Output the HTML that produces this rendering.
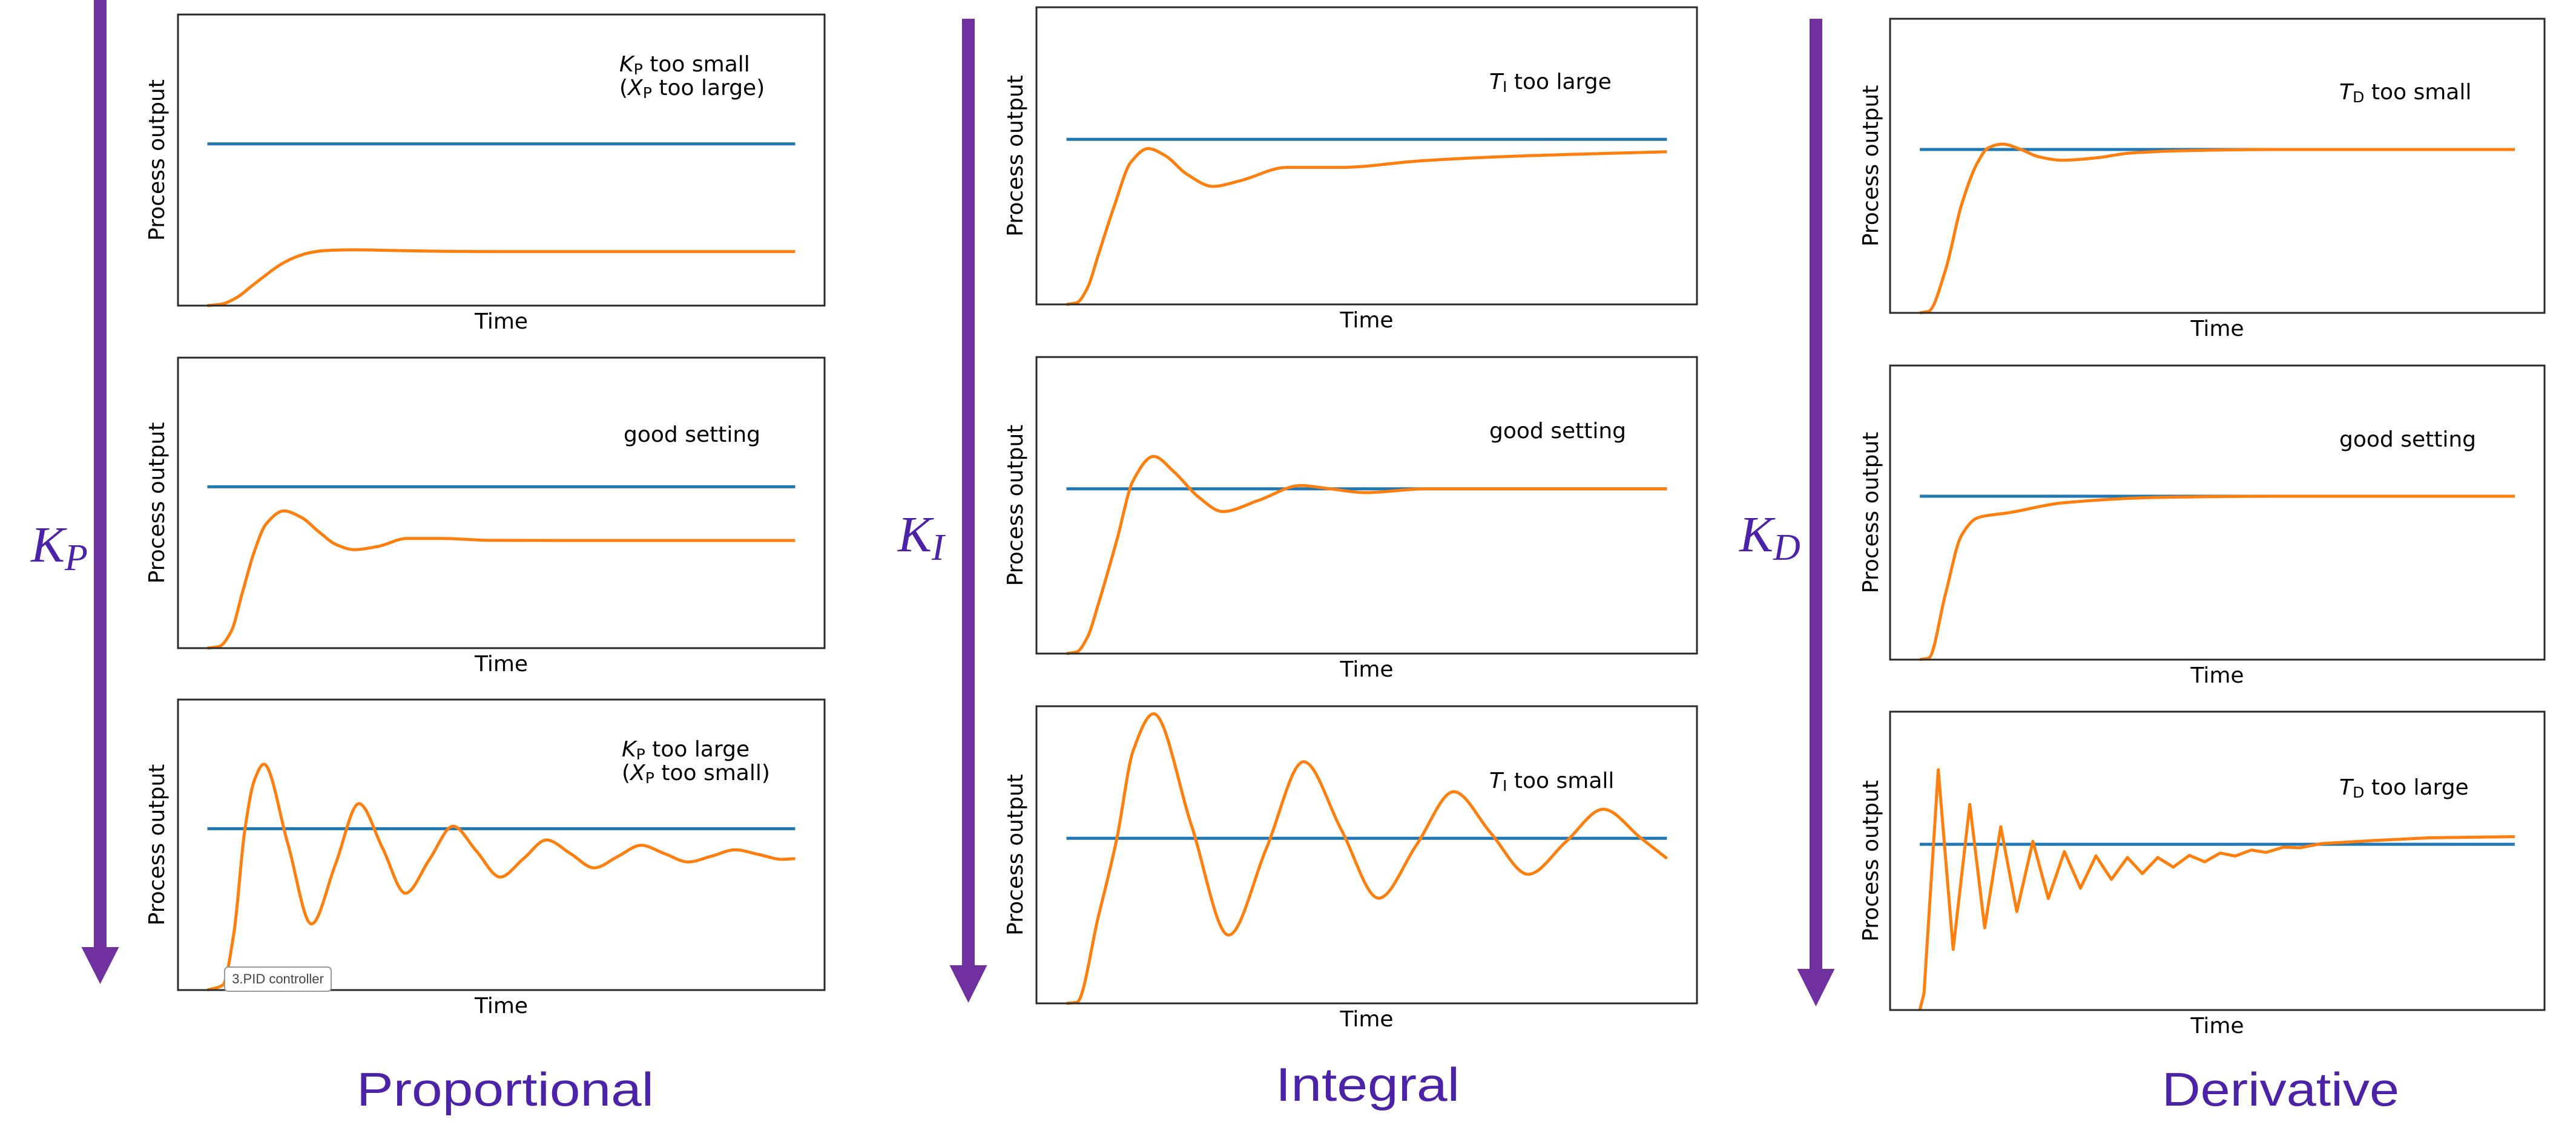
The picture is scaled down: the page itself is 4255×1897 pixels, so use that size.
<!DOCTYPE html>
<html><head><meta charset="utf-8"><title>PID controller tuning</title>
<style>
html,body{margin:0;padding:0;background:#fff;}
svg{display:block;}
</style></head>
<body>
<svg id="fig" xmlns="http://www.w3.org/2000/svg" width="4255" height="1897" viewBox="0 0 4255 1897">
<rect x="0" y="0" width="4255" height="1897" fill="#fff"/>
<g id="arrows"></g>
<g id="panels"></g>
<g id="labels"></g>
</svg>
<script>
const setpoint = 1;
const yMax = 1.8;
// Proportional column
const kpSmallT = [0,.025,.05,.075,.1,.125,.15,.175,.2,.25,.3,.4,.5,.7,1];
const kpSmallY = [0,.01,.05,.12,.19,.255,.3,.328,.34,.345,.342,.336,.334,.334,.334];
const kpGoodT = [0,.02,.04,.06,.08,.1,.13,.16,.19,.22,.25,.29,.34,.4,.48,.6,1];
const kpGoodY = [0,.01,.1,.35,.6,.77,.85,.81,.72,.64,.61,.63,.68,.68,.668,.667,.667];
const kpLargeT = [0,.026,.045,.064,.08,.096,.137,.177,.218,.258,.298,.337,.378,.418,.458,.498,.538,.577,.618,.658,.698,.738,.778,.818,.858,.898,.938,.978,1];
const kpLargeY = [0,.03,.35,1.0,1.3,1.40,.905,.41,.78,1.155,.88,.60,.81,1.015,.86,.70,.815,.93,.845,.757,.827,.897,.845,.794,.83,.869,.84,.81,.815];
// Integral column
const tiLargeT = [0,.017,.035,.053,.08,.107,.136,.165,.2,.244,.29,.367,.457,.59,.726,1];
const tiLargeY = [0,.01,.1,.3,.6,.86,.944,.9,.79,.715,.75,.83,.83,.87,.895,.925];
const tiGoodT = [0,.017,.035,.053,.084,.111,.145,.18,.22,.26,.32,.39,.44,.497,.6,1];
const tiGoodY = [0,.01,.1,.3,.69,1.05,1.197,1.1,.95,.862,.93,1.02,1.0,.977,1,1];
const tiSmallT = [0,.017,.053,.084,.111,.145,.208,.27,.333,.395,.458,.52,.583,.645,.707,.769,.832,.894,.957,1];
const tiSmallY = [0,.006,.525,1.0,1.53,1.754,1.08,.414,.94,1.464,1.05,.637,.96,1.282,1.03,.782,.98,1.176,1.0,.878];
// Derivative column
const tdSmallT = [0,.015,.043,.07,.097,.115,.139,.17,.2,.24,.3,.35,.45,.6,1];
const tdSmallY = [0,.01,.26,.66,.92,1.01,1.033,1.0,.955,.934,.95,.977,.993,1,1];
const tdGoodT = [0,.015,.043,.07,.097,.151,.242,.405,.6,1];
const tdGoodY = [0,.01,.4,.76,.868,.9,.96,.993,1,1];
const tdLargeT = [0,.007,.031,.056,.084,.109,.136,.163,.19,.216,.243,.27,.296,.322,.349,.374,.4,.426,.453,.479,.505,.53,.557,.582,.611,.639,.675,.766,.857,1];
const tdLargeY = [0,.1,1.45,.366,1.24,.496,1.106,.594,1.018,.673,.956,.735,.93,.788,.92,.823,.92,.862,.933,.894,.947,.929,.965,.951,.982,.979,1.004,1.023,1.039,1.046];

const NS = 'http://www.w3.org/2000/svg';
function mk(tag, attrs, parent){ const e=document.createElementNS(NS,tag); for(const k in attrs) e.setAttribute(k,attrs[k]); if(parent) parent.appendChild(e); return e; }

const cols = [
 {x0:294,x1:1362,rows:[[24,505],[591,1071],[1156,1636]],ylab:261},
 {x0:1712,x1:2803,rows:[[12,503],[590,1080],[1167,1658]],ylab:1679},
 {x0:3122,x1:4203,rows:[[31,517],[604,1090],[1176,1669]],ylab:3092}
];
const series = [
 [[kpSmallT,kpSmallY,'kp-too-small',true],[kpGoodT,kpGoodY,'kp-good',true],[kpLargeT,kpLargeY,'kp-too-large',true]],
 [[tiLargeT,tiLargeY,'ti-too-large',true],[tiGoodT,tiGoodY,'ti-good',true],[tiSmallT,tiSmallY,'ti-too-small',true]],
 [[tdSmallT,tdSmallY,'td-too-small',true],[tdGoodT,tdGoodY,'td-good',true],[tdLargeT,tdLargeY,'td-too-large',false]]
];
const annots = [
 [[1023,108,[['K','i'],['P','s'],[' too small','n']],[1023,147,[['(','n'],['X','i'],['P','s'],[' too large)','n']]]],[1030,720,[['good setting','n']]],[1027,1240,[['K','i'],['P','s'],[' too large','n']],[1027,1279,[['(','n'],['X','i'],['P','s'],[' too small)','n']]]]],
 [[2460,137,[['T','i'],['I','s'],[' too large','n']]],[2460,714,[['good setting','n']]],[2460,1292,[['T','i'],['I','s'],[' too small','n']]]],
 [[3864,154,[['T','i'],['D','s'],[' too small','n']]],[3864,728,[['good setting','n']]],[3864,1303,[['T','i'],['D','s'],[' too large','n']]]]
];

function pathSmooth(pts){
  const n=pts.length, dx=[], m=[], t=[];
  for(let i=0;i<n-1;i++){ dx.push(pts[i+1][0]-pts[i][0]); m.push((pts[i+1][1]-pts[i][1])/dx[i]); }
  t[0]=m[0]; t[n-1]=m[n-2];
  for(let i=1;i<n-1;i++){
    if(m[i-1]*m[i]<=0) t[i]=0;
    else { const d0=dx[i-1],d1=dx[i]; t[i]=3*(d0+d1)/((2*d1+d0)/m[i-1]+(d1+2*d0)/m[i]); }
  }
  let d='M'+pts[0][0].toFixed(1)+','+pts[0][1].toFixed(1);
  for(let i=0;i<n-1;i++){
    const h=dx[i]/3;
    d+=' C'+(pts[i][0]+h).toFixed(1)+','+(pts[i][1]+t[i]*h).toFixed(1)+' '+(pts[i+1][0]-h).toFixed(1)+','+(pts[i+1][1]-t[i+1]*h).toFixed(1)+' '+pts[i+1][0].toFixed(1)+','+pts[i+1][1].toFixed(1);
  }
  return d;
}
function pathLinear(pts){ return 'M'+pts.map(p=>p[0].toFixed(1)+','+p[1].toFixed(1)).join(' L'); }

function addText(parent, x, y, parts, size){
  const t=mk('text',{x:x,y:y,'font-family':'"DejaVu Sans", "Liberation Sans", sans-serif','font-size':size,fill:'#000','dominant-baseline':'middle'},parent);
  parts.forEach(p=>{
    const s=mk('tspan',{},t);
    if(p[1]==='i'){ s.setAttribute('font-style','italic'); }
    if(p[1]==='s'){ s.setAttribute('font-size',size*0.7); s.setAttribute('dy','8'); }
    s.textContent=p[0];
    if(p[1]==='s'){ s.setAttribute('data-sub','1'); }
  });
  const spans=t.querySelectorAll('tspan');
  for(let i=1;i<spans.length;i++){ if(spans[i-1].getAttribute('data-sub')) spans[i].setAttribute('dy','-8'); }
  return t;
}

const panelsG=document.getElementById('panels');
cols.forEach((c,ci)=>{
  c.rows.forEach((r,ri)=>{
    const y0=r[0],y1=r[1];
    const xs=t=>c.x0+(t+0.05)/1.1*(c.x1-c.x0);
    const ys=v=>y1-v/yMax*(y1-y0);
    const g=mk('g',{},panelsG);
    
    
    const sp=mk('line',{x1:xs(0),x2:xs(1),y1:ys(setpoint),y2:ys(setpoint),stroke:'#1f77b4','stroke-width':5},g);
    
    
    const [T,Y,name,smooth]=series[ci][ri];
    const pts=T.map((t,i)=>[xs(t),ys(Y[i])]);
    const pth=mk('path',{d:smooth?pathSmooth(pts):pathLinear(pts),fill:'none',stroke:'#ff7f0e','stroke-width':5,'stroke-linejoin':'round'},g);
    
    
    const fr=mk('rect',{x:c.x0,y:y0,width:c.x1-c.x0,height:y1-y0,fill:'none',stroke:'#2b2b2b','stroke-width':3},g);
    
    
    const xl=mk('text',{x:(c.x0+c.x1)/2,y:y1+28,'text-anchor':'middle','dominant-baseline':'middle','font-family':'"DejaVu Sans", "Liberation Sans", sans-serif','font-size':36,fill:'#000'},g);
    xl.textContent='Time';
    
    
    const yc=(y0+y1)/2;
    const yl=mk('text',{x:c.ylab,y:yc,'text-anchor':'middle','dominant-baseline':'middle','font-family':'"DejaVu Sans", "Liberation Sans", sans-serif','font-size':36,fill:'#000',transform:'rotate(-90 '+c.ylab+' '+yc+')'},g);
    yl.textContent='Process output';
    
    
    const a=annots[ci][ri];
    const at=addText(g,a[0],a[1],a[2],36);
    
    
    if(a[3]){ const at2=addText(g,a[3][0],a[3][1],a[3][2],36);
      
       }
  });
});

const tag=mk('g',{},panelsG);


mk('rect',{x:371,y:1598,width:176,height:40,rx:6,fill:'#fff',stroke:'#999','stroke-width':2},tag);
const tt=mk('text',{x:459,y:1619,'text-anchor':'middle','dominant-baseline':'middle','font-family':'"Liberation Sans", sans-serif','font-size':22,fill:'#444'},tag);
tt.textContent='3.PID controller';

const arrowsG=document.getElementById('arrows');
[[165.5,0,1565,1626,'kp-arrow'],[1599.5,31,1595,1657,'ki-arrow'],[2999.5,31,1601,1663,'kd-arrow']].forEach(a=>{
  const g=mk('g',{},arrowsG);
  
  
  mk('rect',{x:a[0]-10.5,y:a[1],width:21,height:a[2]-a[1]+2,fill:'#7030a0'},g);
  mk('polygon',{points:(a[0]-31)+','+a[2]+' '+(a[0]+31)+','+a[2]+' '+a[0]+','+a[3],fill:'#7030a0'},g);
});

const labelsG=document.getElementById('labels');
[[51,928,'K','P','kp-label'],[1483,911,'K','I','ki-label'],[2873,911,'K','D','kd-label']].forEach(k=>{
  const t=mk('text',{x:k[0],y:k[1],'font-family':'"Liberation Serif", serif','font-style':'italic','font-size':84,fill:'#4b22a8'},labelsG);
  
  
  const a=mk('tspan',{},t); a.textContent=k[2];
  const b=mk('tspan',{dy:'14','font-size':62},t); b.textContent=k[3];
});
[[589,1827,491,'Proportional','proportional-title'],[2107,1819,304,'Integral','integral-title'],[3571,1827,392,'Derivative','derivative-title']].forEach(s=>{
  const t=mk('text',{x:s[0],y:s[1],textLength:s[2],lengthAdjust:'spacingAndGlyphs','font-family':'"Liberation Sans", sans-serif','font-size':78,fill:'#4b22a8'},labelsG);
  t.textContent=s[3];
  
  
});
</script>
</body></html>
